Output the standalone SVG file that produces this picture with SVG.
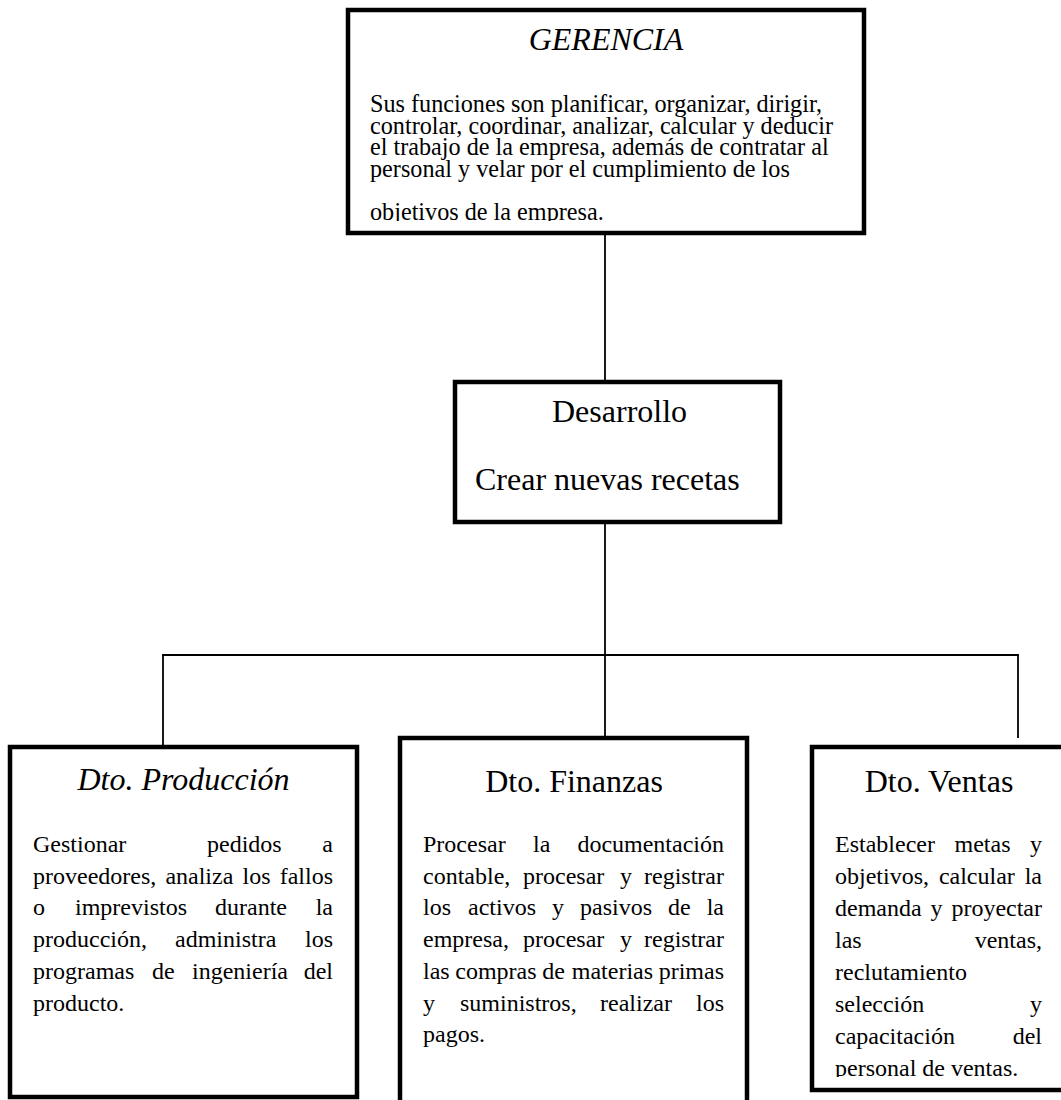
<svg xmlns="http://www.w3.org/2000/svg" width="1061" height="1100" viewBox="0 0 1061 1100">
<style>
.box{fill:#fff;stroke:#000;stroke-width:4.5}
.c{fill:none;stroke:#000;stroke-width:1.8}
text{font-family:"Liberation Serif","Times New Roman",serif;fill:#000}
.t{font-size:32px}
.ti{font-size:32px;font-style:italic}
.b{font-size:24px}
.g{font-size:24.2px}
.m{text-anchor:middle}
.e{text-anchor:end}
</style>
<defs>
<clipPath id="clipG"><rect x="350" y="12" width="512" height="209"/></clipPath>
<clipPath id="clipV"><rect x="814" y="749" width="247" height="328"/></clipPath>
</defs>
<rect width="1061" height="1100" fill="#fff"/>
<g id="connectors">
<line class="c" x1="605" y1="235" x2="605" y2="380"/>
<line class="c" x1="605" y1="524" x2="605" y2="736"/>
<line class="c" x1="162" y1="655" x2="1019" y2="655"/>
<line class="c" x1="163" y1="655" x2="163" y2="745"/>
<line class="c" x1="1018" y1="655" x2="1018" y2="738"/>
</g>
<g id="gerencia">
<rect class="box" x="348" y="10" width="516" height="223"/>
<text class="ti m" x="606" y="50">GERENCIA</text>
<g clip-path="url(#clipG)">
<text class="g" x="370" y="112">Sus funciones son planificar, organizar, dirigir,</text>
<text class="g" x="370" y="133.7">controlar, coordinar, analizar, calcular y deducir</text>
<text class="g" x="370" y="155.4">el trabajo de la empresa, además de contratar al</text>
<text class="g" x="370" y="177.1">personal y velar por el cumplimiento de los</text>
<text class="g" x="370" y="220">objetivos de la empresa.</text>
</g>
</g>
<g id="desarrollo">
<rect class="box" x="455" y="382" width="325" height="140"/>
<text class="t" x="552" y="422">Desarrollo</text>
<text class="t" x="475" y="490">Crear nuevas recetas</text>
</g>
<g id="produccion">
<rect class="box" x="10" y="747" width="347" height="350"/>
<text class="ti m" x="183.5" y="790">Dto. Producción</text>
<text class="b" y="852"><tspan x="33">Gestionar</tspan><tspan x="207">pedidos</tspan><tspan class="e" x="333">a</tspan></text>
<text class="b" y="883.7"><tspan x="33">proveedores,</tspan><tspan x="165.4">analiza</tspan><tspan x="242.5">los</tspan><tspan class="e" x="333">fallos</tspan></text>
<text class="b" y="915.4"><tspan x="33">o</tspan><tspan x="75">imprevistos</tspan><tspan x="215">durante</tspan><tspan class="e" x="333">la</tspan></text>
<text class="b" y="947.1"><tspan x="33">producción,</tspan><tspan x="175">administra</tspan><tspan class="e" x="333">los</tspan></text>
<text class="b" y="978.8"><tspan x="33">programas</tspan><tspan x="152">de</tspan><tspan x="192">ingeniería</tspan><tspan class="e" x="333">del</tspan></text>
<text class="b" x="33" y="1010.5">producto.</text>
</g>
<g id="finanzas">
<rect class="box" x="400" y="738" width="347" height="400"/>
<text class="t m" x="574" y="792">Dto. Finanzas</text>
<text class="b" y="852"><tspan x="423">Procesar</tspan><tspan x="533">la</tspan><tspan class="e" x="724">documentación</tspan></text>
<text class="b" y="883.7"><tspan x="423">contable,</tspan><tspan x="523">procesar</tspan><tspan x="620">y</tspan><tspan class="e" x="724">registrar</tspan></text>
<text class="b" y="915.4"><tspan x="423">los</tspan><tspan x="468">activos</tspan><tspan x="552">y</tspan><tspan x="580">pasivos</tspan><tspan x="668">de</tspan><tspan class="e" x="724">la</tspan></text>
<text class="b" y="947.1"><tspan x="423">empresa,</tspan><tspan x="523">procesar</tspan><tspan x="620">y</tspan><tspan class="e" x="724">registrar</tspan></text>
<text class="b" y="978.8"><tspan x="423">las</tspan><tspan x="455.3">compras</tspan><tspan x="542.2">de</tspan><tspan x="571.8">materias</tspan><tspan class="e" x="724">primas</tspan></text>
<text class="b" y="1010.5"><tspan x="423">y</tspan><tspan x="460">suministros,</tspan><tspan x="600">realizar</tspan><tspan class="e" x="724">los</tspan></text>
<text class="b" x="423" y="1042.2">pagos.</text>
</g>
<g id="ventas">
<rect class="box" x="812" y="747" width="254" height="343"/>
<text class="t m" x="939" y="792">Dto. Ventas</text>
<g clip-path="url(#clipV)">
<text class="b" y="852"><tspan x="835">Establecer</tspan><tspan x="954.5">metas</tspan><tspan class="e" x="1042">y</tspan></text>
<text class="b" y="884"><tspan x="835">objetivos,</tspan><tspan x="938.9">calcular</tspan><tspan class="e" x="1042">la</tspan></text>
<text class="b" y="916"><tspan x="835">demanda</tspan><tspan x="930.5">y</tspan><tspan class="e" x="1042">proyectar</tspan></text>
<text class="b" y="948"><tspan x="835">las</tspan><tspan class="e" x="1042">ventas,</tspan></text>
<text class="b" x="835" y="980">reclutamiento</text>
<text class="b" y="1012"><tspan x="835">selección</tspan><tspan class="e" x="1042">y</tspan></text>
<text class="b" y="1044"><tspan x="835">capacitación</tspan><tspan class="e" x="1042">del</tspan></text>
<text class="b" x="835" y="1076">personal de ventas.</text>
</g>
</g>
</svg>
